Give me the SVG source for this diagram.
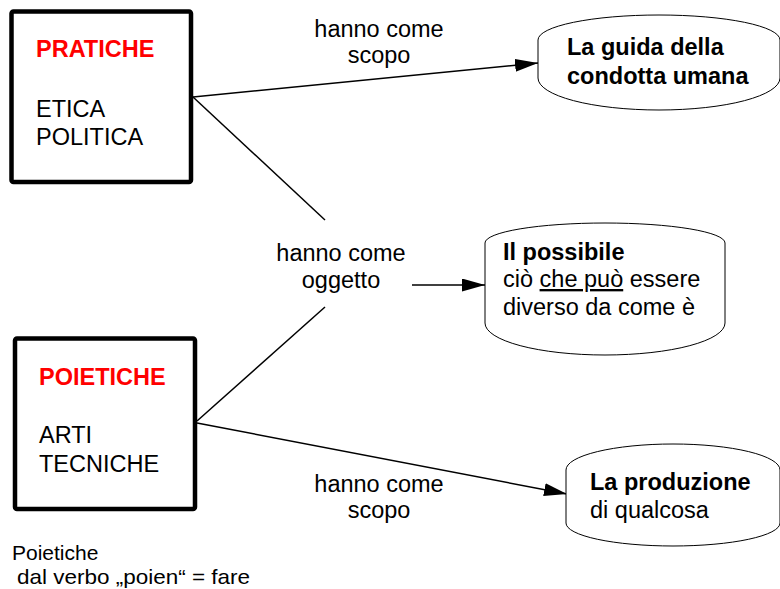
<svg xmlns="http://www.w3.org/2000/svg" width="780" height="589" viewBox="0 0 780 589">
<style>
text{font-family:"Liberation Sans",Arial,sans-serif;font-size:23.5px;fill:#000}
.b{font-weight:bold}
.red{fill:#ff0000}
.box{fill:#fff;stroke:#000;stroke-width:4.5}
.oval{fill:#fff;stroke:#000;stroke-width:1}
.con{stroke:#000;stroke-width:1.5;fill:none}
.small{font-size:21px}
</style>
<defs>
<marker id="arr" markerUnits="userSpaceOnUse" markerWidth="24" markerHeight="14" refX="23" refY="6.5" orient="auto">
<path d="M0,0 L23,6.5 L0,13 Z" fill="#000"/>
</marker>
</defs>
<rect width="780" height="589" fill="#fff"/>
<g id="connectors">
<line class="con" x1="193" y1="97" x2="538" y2="63" marker-end="url(#arr)"/>
<line class="con" x1="193" y1="97" x2="325" y2="220"/>
<line class="con" x1="197" y1="421" x2="325" y2="307"/>
<line class="con" x1="412" y1="285" x2="485" y2="285" marker-end="url(#arr)"/>
<line class="con" x1="197" y1="423" x2="567" y2="494" marker-end="url(#arr)"/>
<text x="379" y="37" text-anchor="middle">hanno come</text>
<text x="379" y="63" text-anchor="middle">scopo</text>
<text x="341" y="261" text-anchor="middle">hanno come</text>
<text x="341" y="288" text-anchor="middle">oggetto</text>
<text x="379" y="492" text-anchor="middle">hanno come</text>
<text x="379" y="518" text-anchor="middle">scopo</text>
</g>
<g id="pratiche">
<rect class="box" x="11.5" y="11.5" width="179.5" height="170.5" rx="2"/>
<text class="b red" x="36" y="57">PRATICHE</text>
<text x="36" y="117">ETICA</text>
<text x="36" y="145">POLITICA</text>
</g>
<g id="poietiche">
<rect class="box" x="15" y="338.5" width="180" height="170.5" rx="2"/>
<text class="b red" x="39" y="385">POIETICHE</text>
<text x="39" y="443">ARTI</text>
<text x="39" y="472">TECNICHE</text>
</g>
<g id="guida">
<path class="oval" d="M538,40 A121,25 0 0 1 780,40 L780,78 A121,32 0 0 1 538,78 Z"/>
<text class="b" x="567" y="55">La guida della</text>
<text class="b" x="567" y="84">condotta umana</text>
</g>
<g id="possibile">
<path class="oval" d="M485,243 A120,20 0 0 1 725,243 L725,323 A120,32 0 0 1 485,323 Z"/>
<text class="b" x="503" y="260">Il possibile</text>
<text x="503" y="287">ciò <tspan text-decoration="underline">che può</tspan> essere</text>
<text x="503" y="315">diverso da come è</text>
</g>
<g id="produzione">
<path class="oval" d="M566,470 A107,26 0 0 1 780,470 L780,523 A107,23 0 0 1 566,523 Z"/>
<text class="b" x="590" y="490">La produzione</text>
<text x="590" y="518">di qualcosa</text>
</g>
<g id="nota">
<text class="small" x="12" y="560">Poietiche</text>
<text class="small" x="17" y="584" textLength="233" lengthAdjust="spacingAndGlyphs">dal verbo „poien“ = fare</text>
</g>
</svg>
